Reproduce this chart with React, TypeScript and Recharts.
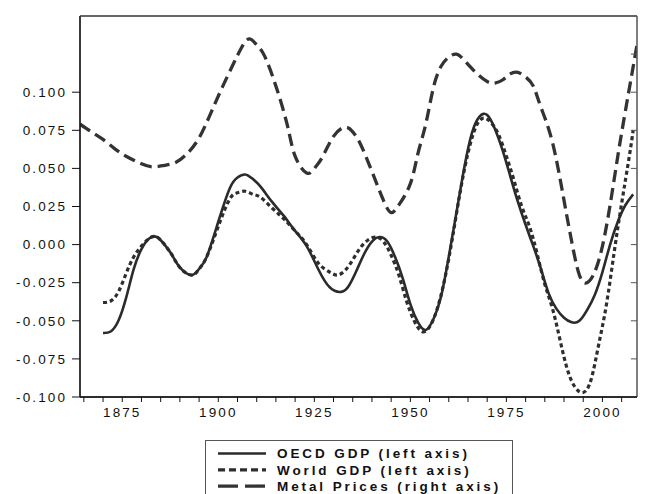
import React from 'react';
import { LineChart, Line, XAxis, YAxis, ReferenceLine } from 'recharts';

const oecdYears = [1870, 1872, 1874, 1876, 1878, 1880, 1882, 1884, 1886, 1888, 1890, 1893, 1895, 1897, 1900, 1903, 1905, 1907, 1909, 1911, 1914, 1917, 1920, 1923, 1926, 1929, 1932, 1934, 1936, 1938, 1940, 1942, 1944, 1946, 1948, 1950, 1952, 1954, 1956, 1958, 1960, 1962, 1964, 1966, 1968, 1970, 1972, 1974, 1976, 1978, 1980, 1982, 1984, 1986, 1988, 1990, 1992, 1994, 1996, 1998, 2000, 2002, 2004, 2006, 2008];
const oecdValues = [-0.058, -0.057, -0.05, -0.035, -0.016, -0.003, 0.004, 0.005, 0.0, -0.007, -0.015, -0.02, -0.016, -0.008, 0.015, 0.037, 0.044, 0.046, 0.043, 0.038, 0.028, 0.019, 0.009, -0.001, -0.016, -0.028, -0.031, -0.027, -0.017, -0.006, 0.002, 0.005, 0.002, -0.008, -0.022, -0.039, -0.051, -0.056, -0.049, -0.034, -0.008, 0.021, 0.05, 0.073, 0.084, 0.085, 0.076, 0.062, 0.045, 0.028, 0.013, -0.001, -0.016, -0.032, -0.042, -0.048, -0.051, -0.05, -0.043, -0.033, -0.018, 0.0, 0.015, 0.026, 0.033];

const worldYears = [1870, 1872, 1874, 1876, 1878, 1880, 1882, 1884, 1886, 1888, 1890, 1893, 1895, 1897, 1900, 1903, 1905, 1907, 1909, 1911, 1914, 1917, 1920, 1923, 1926, 1929, 1931, 1933, 1935, 1937, 1939, 1941, 1943, 1945, 1947, 1949, 1951, 1953, 1955, 1957, 1959, 1961, 1963, 1965, 1967, 1969, 1971, 1973, 1975, 1977, 1979, 1981, 1983, 1985, 1987, 1989, 1991, 1993, 1995, 1997, 1999, 2001, 2003, 2005, 2007, 2008];
const worldValues = [-0.038, -0.037, -0.031, -0.019, -0.008, -0.001, 0.004, 0.005, 0.0, -0.007, -0.015, -0.02, -0.016, -0.008, 0.012, 0.03, 0.034, 0.035, 0.033, 0.031, 0.024, 0.017, 0.009, 0.0, -0.012, -0.018, -0.02, -0.017, -0.01, -0.002, 0.003, 0.005, 0.002, -0.007, -0.02, -0.037, -0.05, -0.057, -0.054, -0.042, -0.022, 0.005, 0.035, 0.06, 0.077, 0.083, 0.08, 0.072, 0.058, 0.042, 0.025, 0.012, -0.006, -0.026, -0.042, -0.063, -0.083, -0.094, -0.097, -0.089, -0.066, -0.04, -0.006, 0.027, 0.058, 0.075];

const metalYears = [1864, 1867, 1870, 1873, 1876, 1880, 1883, 1886, 1889, 1892, 1895, 1898, 1901, 1904, 1906, 1908, 1910, 1912, 1915, 1918, 1920, 1923, 1925, 1927, 1930, 1933, 1935, 1937, 1940, 1943, 1945, 1947, 1950, 1952, 1954, 1956, 1958, 1960, 1962, 1964, 1967, 1970, 1972, 1974, 1976, 1978, 1980, 1982, 1984, 1987, 1990, 1992, 1994, 1996, 1998, 2000, 2002, 2004, 2006, 2009];
const metalValues = [0.079, 0.074, 0.069, 0.063, 0.058, 0.053, 0.051, 0.052, 0.054, 0.06, 0.07, 0.086, 0.103, 0.119, 0.129, 0.135, 0.131, 0.124, 0.104, 0.078, 0.058, 0.047, 0.05, 0.057, 0.071, 0.077, 0.074, 0.066, 0.048, 0.029, 0.021, 0.026, 0.04, 0.06, 0.079, 0.103, 0.117, 0.123, 0.125, 0.121, 0.113, 0.107, 0.106, 0.108, 0.112, 0.113, 0.11, 0.104, 0.09, 0.067, 0.029, 0.002, -0.02, -0.025, -0.018, -0.001, 0.026, 0.058, 0.088, 0.131];

const xMin = 1864;
const xMax = 2009;
const yMin = -0.1;
const yMax = 0.15;
const xTicks = [1865, 1870, 1875, 1880, 1885, 1890, 1895, 1900, 1905, 1910, 1915, 1920, 1925, 1930, 1935, 1940, 1945, 1950, 1955, 1960, 1965, 1970, 1975, 1980, 1985, 1990, 1995, 2000, 2005];
const xLabelYears = [1875, 1900, 1925, 1950, 1975, 2000];
const leftTicks = [-0.1, -0.075, -0.05, -0.025, 0, 0.025, 0.05, 0.075, 0.1];
const rightTicks = [-0.075, -0.05, -0.025, 0, 0.025, 0.05, 0.075, 0.1, 0.125];
const rightTickStart = 2007.4;

const legendLabels = ['OECD GDP (left axis)', 'World GDP (left axis)', 'Metal Prices (right axis)'];

const toRows = (years: number[], values: number[]) =>
  years.map((y, i) => ({ year: y, v: values[i] }));

const oecdData = toRows(oecdYears, oecdValues);
const worldData = toRows(worldYears, worldValues);
const metalData = toRows(metalYears, metalValues);

const tickFont = {
  fontFamily: '"Liberation Sans", Arial, sans-serif',
  fontSize: 13.5,
  fill: '#111',
  letterSpacing: 2.1,
};

const lineStyles = [
  { stroke: '#2b2b2b', width: 2.6, dash: undefined as string | undefined },
  { stroke: '#2e2e2e', width: 3.2, dash: '4 3' },
  { stroke: '#333333', width: 3.3, dash: '12 6' },
];

export default function App() {
  return (
    <div style={{ position: 'absolute', left: 0, top: 0, width: 646, height: 494, overflow: 'hidden', background: '#fff' }}>
      <LineChart width={646} height={494} margin={{ top: 16, right: 9, bottom: 67, left: 0 }}>
        <XAxis
          xAxisId="bottom"
          dataKey="year"
          type="number"
          domain={[xMin, xMax]}
          allowDataOverflow
          ticks={xTicks}
          interval={0}
          height={30}
          tickSize={5}
          tickMargin={5}
          stroke="#111"
          tickFormatter={(v: number) => (xLabelYears.includes(v) ? String(v) : '')}
          tick={tickFont}
        />
        <YAxis
          yAxisId="left"
          type="number"
          domain={[yMin, yMax]}
          allowDataOverflow
          ticks={leftTicks}
          interval={0}
          width={80}
          tickSize={8}
          tickMargin={5}
          stroke="#111"
          tickFormatter={(v: number) => v.toFixed(3)}
          tick={tickFont}
        />
        <YAxis yAxisId="right" orientation="right" type="number" domain={[yMin, yMax]} allowDataOverflow hide />
        <Line
          xAxisId="bottom"
          yAxisId="right"
          data={metalData}
          dataKey="v"
          type="natural"
          dot={false}
          stroke={lineStyles[2].stroke}
          strokeWidth={lineStyles[2].width}
          strokeDasharray={lineStyles[2].dash}
          isAnimationActive={false}
        />
        <Line
          xAxisId="bottom"
          yAxisId="left"
          data={worldData}
          dataKey="v"
          type="natural"
          dot={false}
          stroke={lineStyles[1].stroke}
          strokeWidth={lineStyles[1].width}
          strokeDasharray={lineStyles[1].dash}
          isAnimationActive={false}
        />
        <Line
          xAxisId="bottom"
          yAxisId="left"
          data={oecdData}
          dataKey="v"
          type="natural"
          dot={false}
          stroke={lineStyles[0].stroke}
          strokeWidth={lineStyles[0].width}
          isAnimationActive={false}
        />
        <ReferenceLine xAxisId="bottom" yAxisId="left" x={xMin} stroke="#111" strokeWidth={1.3} />
        <ReferenceLine xAxisId="bottom" yAxisId="left" y={yMin} stroke="#111" strokeWidth={1.3} />
        <ReferenceLine xAxisId="bottom" yAxisId="left" y={yMax} stroke="#666" strokeWidth={1.8} />
        <ReferenceLine xAxisId="bottom" yAxisId="right" x={xMax} stroke="#555" strokeWidth={1.5} />
        {rightTicks.map((t) => (
          <ReferenceLine
            key={t}
            xAxisId="bottom"
            yAxisId="right"
            segment={[{ x: rightTickStart, y: t }, { x: xMax, y: t }]}
            stroke="#555"
            strokeWidth={1}
          />
        ))}
      </LineChart>
      <div
        style={{
          position: 'absolute',
          left: 205,
          top: 440,
          width: 306,
          height: 80,
          border: '1px solid #555',
          background: '#fff',
        }}
      >
        <svg width={306} height={60} style={{ position: 'absolute', left: 0, top: 0 }}>
          {legendLabels.map((label, i) => {
            const cy = 12.5 + i * 16.3;
            const s = lineStyles[i];
            return (
              <g key={label}>
                <line
                  x1={12}
                  x2={60}
                  y1={cy}
                  y2={cy}
                  stroke={s.stroke}
                  strokeWidth={s.width}
                  strokeDasharray={i === 1 ? '7 4' : i === 2 ? '20 7' : undefined}
                />
                <text
                  x={71}
                  y={cy + 4.8}
                  fontFamily='"Liberation Sans", Arial, sans-serif'
                  fontWeight="bold"
                  fontSize={13.5}
                  letterSpacing={2.9}
                  fill="#111"
                >
                  {label}
                </text>
              </g>
            );
          })}
        </svg>
      </div>
    </div>
  );
}
